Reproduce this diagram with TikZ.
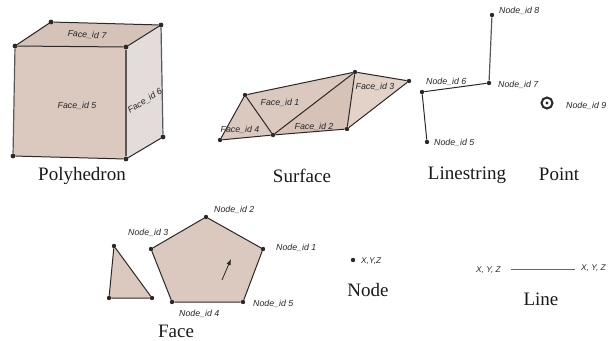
\documentclass[tikz,border=0pt]{standalone}
\usepackage{fontspec}
\setmainfont{Liberation Serif}
\newfontfamily\lblfont{Liberation Sans}
\usetikzlibrary{arrows.meta}
\definecolor{facemain}{HTML}{DBC9C0}
\definecolor{facetop}{HTML}{D5C3B9}
\definecolor{faceside}{HTML}{E3DCDA}
\definecolor{facelight}{HTML}{E2D2C8}
\definecolor{facedark}{HTML}{D6C2B6}
\definecolor{edgecol}{HTML}{2B2826}
\tikzset{
  x=1pt,y=-1pt,
  vtx/.style={circle,fill=edgecol,inner sep=0pt,minimum size=4.8pt},
  smallvtx/.style={circle,fill=edgecol,inner sep=0pt,minimum size=4.4pt},
  lbl/.style={font=\lblfont\itshape\fontsize{8.8}{10}\selectfont,text=black!85,inner sep=0pt},
  xyzlbl/.style={font=\lblfont\itshape\fontsize{8.3}{10}\selectfont,text=black!85,inner sep=0pt},
  captxt/.style={font=\fontsize{19}{22}\selectfont,text=black!90,inner sep=0pt},
  edgeline/.style={draw=edgecol,line width=1pt,line join=round},
  gedge/.style={draw=black!65,line width=1.2pt}
}
\begin{document}
\begin{tikzpicture}
\useasboundingbox (0,0) rectangle (615,340);
% Polyhedron
\fill[facetop] (51,22) -- (161,25) -- (126,47) -- (15,46) -- cycle;
\fill[faceside] (161,25) -- (163,137) -- (126,159) -- (126,47) -- cycle;
\fill[facemain] (15,46) -- (126,47) -- (126,159) -- (13,156) -- cycle;
\node[vtx] (a1) at (51,22) {};
\node[vtx] (a2) at (161,25) {};
\node[vtx] (a3) at (15,46) {};
\node[vtx] (a4) at (126,47) {};
\node[vtx] (a5) at (13,156) {};
\node[vtx] (a6) at (126,159) {};
\node[vtx] (a7) at (163,137) {};
\draw[edgeline] (a3) -- (a1) -- (a2) -- (a4) -- (a3);
\draw[gedge] (a3) -- (a5);
\draw[edgeline] (a5) -- (a6);
\draw[gedge] (a4) -- (a6);
\draw[gedge] (a2) -- (a7);
\draw[edgeline] (a6) -- (a7);
\node[lbl,rotate=-3] (f7) at (87,35) {Face\_id 7};
\node[lbl] (f5) at (77,106) {Face\_id 5};
\node[lbl,rotate=33] (f6) at (145,101) {Face\_id 6};
\node[captxt] (polyh) at (82,176) {Polyhedron};
% Surface
\fill[facemain] (245,95) -- (355,72) -- (273,135) -- cycle;
\fill[facedark] (355,72) -- (347,129) -- (273,135) -- cycle;
\fill[facelight] (355,72) -- (409,81) -- (347,129) -- cycle;
\fill[facemain] (245,95) -- (273,135) -- (220,140) -- cycle;
\node[smallvtx] (b1) at (220,140) {};
\node[smallvtx] (b2) at (245,95) {};
\node[smallvtx] (b3) at (273,135) {};
\node[smallvtx] (b4) at (347,129) {};
\node[smallvtx] (b5) at (355,72) {};
\node[smallvtx] (b6) at (409,81) {};
\draw[edgeline] (b1) -- (b2) -- (b5) -- (b6) -- (b4);
\draw[edgeline] (b2) -- (b3) -- (b5) -- (b4) -- (b3) -- (b1);
\node[lbl] (s1) at (280,103) {Face\_id 1};
\node[lbl,rotate=-1] (s2) at (314,127) {Face\_id 2};
\node[lbl] (s3) at (375,87) {Face\_id 3};
\node[lbl] (s4) at (240,130) {Face\_id 4};
\node[captxt] (surf) at (302,176) {Surface};
% Linestring
\node[smallvtx] (c8) at (492,15) {};
\node[smallvtx] (c7) at (489,83) {};
\node[smallvtx] (c6) at (422,92) {};
\node[smallvtx] (c5) at (427,142) {};
\draw[gedge] (c8) -- (c7);
\draw[edgeline] (c7) -- (c6) -- (c5);
\node[lbl,anchor=west] (n8) at (499,11) {Node\_id 8};
\node[lbl,anchor=west] (n7) at (498,85) {Node\_id 7};
\node[lbl,anchor=west] (n6) at (426,82) {Node\_id 6};
\node[lbl,anchor=west] (n5) at (434,143) {Node\_id 5};
\node[captxt] (lstr) at (467,175) {Linestring};
% Point
\node[circle,draw=edgecol,line width=2pt,minimum size=11pt,inner sep=0pt] (pt) at (547,103) {};
\fill[edgecol] (pt) circle (1.7pt);
\node[lbl,anchor=west] (n9) at (566,106) {Node\_id 9};
\node[captxt] (ptc) at (559,174) {Point};
% Face
\fill[facemain] (114,246) -- (109,298) -- (152,298) -- cycle;
\fill[facemain] (206,217) -- (263,249) -- (243,302) -- (172,302) -- (151,249) -- cycle;
\node[smallvtx] (d1) at (114,246) {};
\node[smallvtx] (d2) at (109,298) {};
\node[smallvtx] (d3) at (152,298) {};
\draw[edgeline] (d1) -- (d2) -- (d3) -- (d1);
\node[smallvtx] (e2) at (206,217) {};
\node[smallvtx] (e1) at (263,249) {};
\node[smallvtx] (e5) at (243,302) {};
\node[smallvtx] (e4) at (172,302) {};
\node[smallvtx] (e3) at (151,249) {};
\draw[edgeline] (e2) -- (e1) -- (e5) -- (e4) -- (e3) -- (e2);
\coordinate (arrs) at (222,280);
\coordinate (arre) at (231,259);
\draw[edgecol,line width=0.8pt,-{Latex[length=6pt,width=4.5pt]}] (arrs) -- (arre);
\node[lbl,anchor=west] (m2) at (214,210) {Node\_id 2};
\node[lbl,anchor=west] (m3) at (128,233) {Node\_id 3};
\node[lbl,anchor=west] (m1) at (276,248) {Node\_id 1};
\node[lbl,anchor=west] (m5) at (253,304) {Node\_id 5};
\node[lbl,anchor=west] (m4) at (179,314) {Node\_id 4};
\node[captxt] (facec) at (176,331.5) {Face};
% Node
\node[smallvtx] (nd) at (353,260) {};
\node[xyzlbl,anchor=west] (ndl) at (361,261) {X,Y,Z};
\node[captxt] (ndc) at (368,290) {Node};
% Line
\node[xyzlbl,anchor=west] (ll) at (476,270) {X, Y, Z};
\node[xyzlbl,anchor=west] (lr) at (581,268) {X, Y, Z};
\coordinate (ls) at (511,269);
\coordinate (le) at (575,269);
\draw[draw=black!60,line width=1pt] (ls) -- (le);
\node[captxt] (lnc) at (541,299) {Line};
\end{tikzpicture}
\end{document}
